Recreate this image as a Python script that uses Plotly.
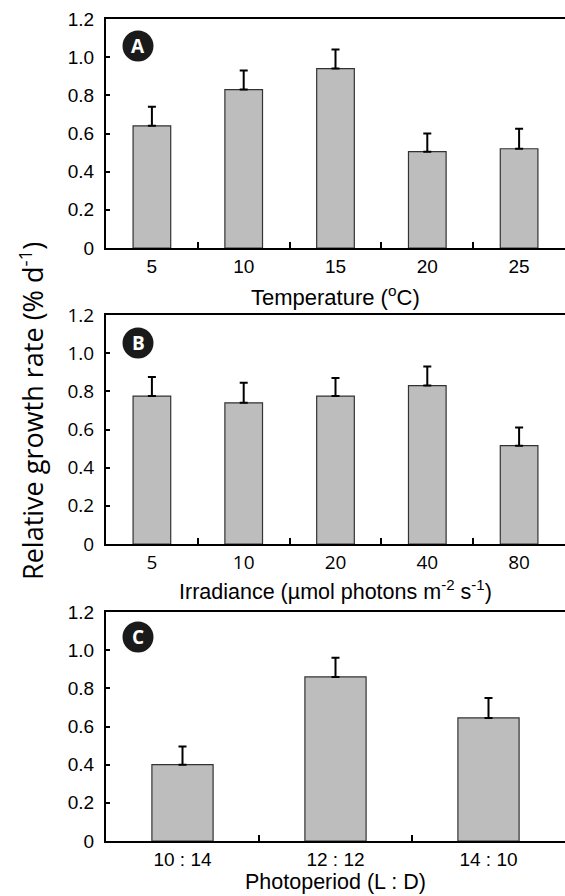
import plotly.graph_objects as go

# ---- data ----
temp_labels = ["5", "10", "15", "20", "25"]
temp_rgr = [0.64, 0.83, 0.94, 0.505, 0.52]
temp_se = [0.10, 0.10, 0.10, 0.095, 0.105]

irr_labels = ["5", "10", "20", "40", "80"]
irr_rgr = [0.775, 0.74, 0.775, 0.83, 0.515]
irr_se = [0.10, 0.105, 0.095, 0.10, 0.095]

photo_labels = ["10 : 14", "12 : 12", "14 : 10"]
photo_rgr = [0.40, 0.86, 0.645]
photo_se = [0.095, 0.10, 0.105]

ytick_vals = [0, 0.2, 0.4, 0.6, 0.8, 1.0, 1.2]
ytick_text = ["0", "0.2", "0.4", "0.6", "0.8", "1.0", "1.2"]

W, H = 565, 896
ML, MR, MT, MB = 106, 0, 19, 55
PH = H - MT - MB

ARIAL = "Liberation Sans, Arial, sans-serif"
OPEN = "Open Sans, sans-serif"

def py(px):
    return (H - MB - px) / PH

panels = [
    dict(cats=temp_labels, vals=temp_rgr, err=temp_se, width=0.41,
         top=19, bot=248, letter="A", cy=46,
         title="Temperature (<sup>o</sup>C)", title_y=296, title_size=22,
         font=ARIAL, tfont=ARIAL),
    dict(cats=irr_labels, vals=irr_rgr, err=irr_se, width=0.41,
         top=315, bot=544, letter="B", cy=343,
         title="Irradiance (\u00b5mol photons m<sup>-2</sup> s<sup>-1</sup>)", title_y=590, title_size=21.5,
         font=OPEN, tfont=ARIAL),
    dict(cats=photo_labels, vals=photo_rgr, err=photo_se, width=0.40,
         top=612, bot=841, letter="C", cy=637,
         title="Photoperiod (L : D)", title_y=882, title_size=21.5,
         font=ARIAL, tfont=ARIAL),
]

fig = go.Figure()
shapes = []
annotations = []
layout = {}

for i, p in enumerate(panels):
    n = i + 1
    xa = "x" if n == 1 else f"x{n}"
    ya = "y" if n == 1 else f"y{n}"
    fig.add_trace(go.Bar(
        x=p["cats"], y=p["vals"], xaxis=xa, yaxis=ya, width=p["width"],
        marker=dict(color="#bdbdbd", line=dict(color="#333333", width=1.2)),
        error_y=dict(type="data", array=p["err"], arrayminus=[0] * len(p["err"]),
                     symmetric=False, color="black", thickness=2, width=4),
        showlegend=False,
    ))
    xkey = "xaxis" if n == 1 else f"xaxis{n}"
    ykey = "yaxis" if n == 1 else f"yaxis{n}"
    layout[xkey] = dict(
        domain=[0, 1], anchor=ya, type="category", range=[-0.5, len(p["cats"]) - 0.5],
        showline=True, linecolor="black", linewidth=2, mirror=True,
        ticks="inside", tickson="boundaries", ticklen=6, tickwidth=2, tickcolor="black",
        tickfont=dict(size=19, color="black", family=p["font"]),
        showgrid=False, zeroline=False, fixedrange=True,
    )
    layout[ykey] = dict(
        domain=[py(p["bot"]), py(p["top"])], anchor=xa, range=[0, 1.2],
        tickvals=ytick_vals, ticktext=ytick_text,
        showline=True, linecolor="black", linewidth=2,
        ticks="inside", ticklen=4, tickwidth=1.5, tickcolor="black",
        tickfont=dict(size=19, color="black", family=p["font"]),
        ticklabelstandoff=6,
        showgrid=False, zeroline=False,
    )
    yd = "y domain" if n == 1 else f"y{n} domain"
    xd = "x domain" if n == 1 else f"x{n} domain"
    cy = (p["bot"] - p["cy"]) / (p["bot"] - p["top"])
    cx = (138 - ML) / (W - ML - MR)
    shapes.append(dict(type="circle", xref=xd, yref=yd, xsizemode="pixel", ysizemode="pixel",
                       xanchor=cx, yanchor=cy, x0=-15.5, x1=15.5, y0=-15.5, y1=15.5,
                       fillcolor="#1a1a1a", line=dict(width=0)))
    annotations.append(dict(text=f"<b>{p['letter']}</b>", xref=xd, yref=yd, x=cx, y=cy,
                            xanchor="center", yanchor="middle", showarrow=False,
                            font=dict(size=19, color="white", family=OPEN)))
    annotations.append(dict(text=p["title"], xref="paper", yref="paper", x=0.5, y=py(p["title_y"]),
                            xanchor="center", yanchor="middle", showarrow=False,
                            font=dict(size=p["title_size"], color="black", family=p["tfont"])))

annotations.append(dict(text="Relative growth rate (% d<sup>-1</sup>)", xref="paper", yref="paper",
                        x=(31 - ML) / (W - ML - MR), y=py(411), xanchor="center", yanchor="middle",
                        textangle=-90, showarrow=False,
                        font=dict(size=27, color="black", family=OPEN)))

fig.update_layout(
    width=W, height=H, margin=dict(l=ML, r=MR, t=MT, b=MB),
    plot_bgcolor="white", paper_bgcolor="white",
    shapes=shapes, annotations=annotations, bargap=0.5,
    **layout,
)

fig.write_html("out.html", config={"displayModeBar": False},
               post_script="document.body.style.margin='0px';document.body.style.overflow='hidden';")
